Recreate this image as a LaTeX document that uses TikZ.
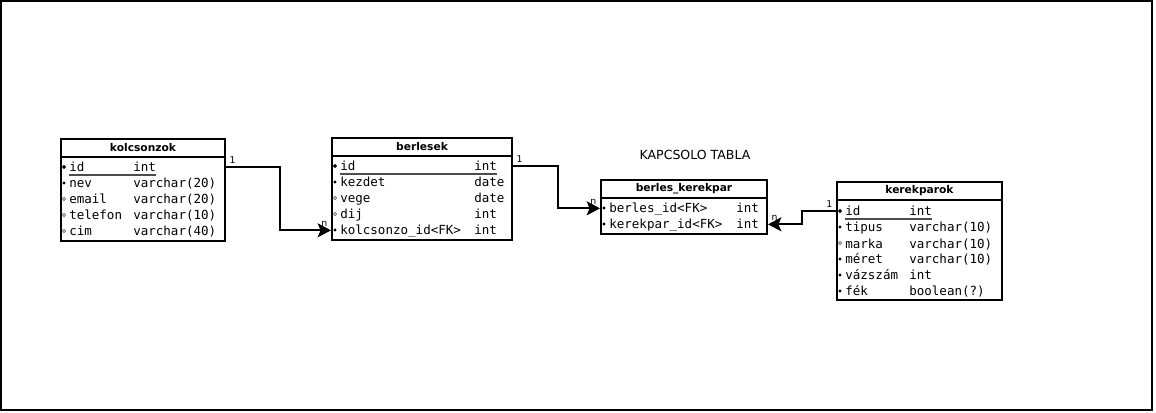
\documentclass[tikz,border=0pt]{standalone}
\usepackage{fontspec}
\setmainfont{DejaVu Sans}
\setsansfont{DejaVu Sans}
\setmonofont{DejaVu Sans Mono}
\usepackage{tikz}
\usetikzlibrary{arrows.meta}
\usetikzlibrary{calc}

\begin{document}
\begin{tikzpicture}[x=0.75pt,y=0.75pt,yscale=-1,xscale=1,
  tblhead/.style={draw, line width=1.5pt, inner sep=0pt, anchor=north west, minimum height=13.5pt, font=\sffamily\bfseries\fontsize{8}{9}\selectfont},
  tblbody/.style={draw, line width=1.5pt, inner sep=0pt, anchor=north west},
  fld/.style={anchor=base west, inner sep=0pt, text height=7pt, text depth=0pt, font=\ttfamily\fontsize{9.4}{10}\selectfont},
  pkmark/.style={fill=black},
  reqmark/.style={fill=black},
  optmark/.style={draw=black!60, fill=white, line width=0.5pt},
  uline/.style={draw=black!70, line width=0.8pt},
  rel/.style={draw, line width=1.5pt, -{Stealth[length=10pt,width=10.5pt,inset=2.2pt]}},
  card/.style={inner sep=2pt, font=\sffamily\fontsize{7}{7}\selectfont}]
\useasboundingbox (0,0) rectangle (1156,413);
%Frame
\draw[line width=1.5pt] (1,1) rectangle (1152,410);

%Table kolcsonzok
\node[tblhead, minimum width=123pt] (kolcsonzok-h) at (60,138) {kolcsonzok};
\node[tblbody, minimum width=123pt, minimum height=63pt] (kolcsonzok) at (60,156) {};
% Text Node
\node[fld] (k-id) at (69,172) {id};
\node[fld] (k-idt) at (133,172) {int};
\node[fld] (k-nev) at (69,188) {nev};
\node[fld] (k-nevt) at (133,188) {varchar(20)};
\node[fld] (k-email) at (69,204) {email};
\node[fld] (k-emailt) at (133,204) {varchar(20)};
\node[fld] (k-tel) at (69,220) {telefon};
\node[fld] (k-telt) at (133,220) {varchar(10)};
\node[fld] (k-cim) at (69,236) {cim};
\node[fld] (k-cimt) at (133,236) {varchar(40)};
\path[uline] ($(k-id.base west)+(0,3)$) -- ($(k-idt.base east)+(0,3)$);
\path[pkmark] ($(k-id.base west)+(-5,-5)$) +(-2.2,0) -- +(0,-2.2) -- +(2.2,0) -- +(0,2.2) -- cycle;
\path[reqmark] ($(k-nev.base west)+(-5,-5)$) circle (1.2pt);
\path[optmark] ($(k-email.base west)+(-5,-5)$) circle (1.2pt);
\path[optmark] ($(k-tel.base west)+(-5,-5)$) circle (1.2pt);
\path[optmark] ($(k-cim.base west)+(-5,-5)$) circle (1.2pt);

%Table berlesek
\node[tblhead, minimum width=135pt] (berlesek-h) at (331,137) {berlesek};
\node[tblbody, minimum width=135pt, minimum height=63pt] (berlesek) at (331,155) {};
% Text Node
\node[fld] (b-id) at (340,171) {id};
\node[fld] (b-idt) at (474,171) {int};
\node[fld] (b-kezdet) at (340,187) {kezdet};
\node[fld] (b-kezdett) at (474,187) {date};
\node[fld] (b-vege) at (340,203) {vege};
\node[fld] (b-veget) at (474,203) {date};
\node[fld] (b-dij) at (340,219) {dij};
\node[fld] (b-dijt) at (474,219) {int};
\node[fld] (b-kid) at (340,235) {kolcsonzo\_id<FK>};
\node[fld] (b-kidt) at (474,235) {int};
\path[uline] ($(b-id.base west)+(0,3)$) -- ($(b-idt.base east)+(0,3)$);
\path[pkmark] ($(b-id.base west)+(-5,-5)$) +(-2.2,0) -- +(0,-2.2) -- +(2.2,0) -- +(0,2.2) -- cycle;
\path[reqmark] ($(b-kezdet.base west)+(-5,-5)$) circle (1.2pt);
\path[optmark] ($(b-vege.base west)+(-5,-5)$) circle (1.2pt);
\path[optmark] ($(b-dij.base west)+(-5,-5)$) circle (1.2pt);
\path[reqmark] ($(b-kid.base west)+(-5,-5)$) circle (1.2pt);

% Text Node
\node[font=\sffamily\fontsize{9.4}{10}\selectfont, inner sep=0pt] (kapcsolo) at (695,155) {KAPCSOLO TABLA};

%Table berles_kerekpar
\node[tblhead, minimum width=124.5pt] (bk-h) at (600,179) {berles\_kerekpar};
\node[tblbody, minimum width=124.5pt, minimum height=27pt] (bk) at (600,197) {};
% Text Node
\node[fld] (bk-bid) at (609,213) {berles\_id<FK>};
\node[fld] (bk-bidt) at (736,213) {int};
\node[fld] (bk-kid) at (609,229) {kerekpar\_id<FK>};
\node[fld] (bk-kidt) at (736,229) {int};
\path[reqmark] ($(bk-bid.base west)+(-5,-5)$) circle (1.2pt);
\path[reqmark] ($(bk-kid.base west)+(-5,-5)$) circle (1.2pt);

%Table kerekparok
\node[tblhead, minimum width=123.75pt] (kerekparok-h) at (836,181) {kerekparok};
\node[tblbody, minimum width=123.75pt, minimum height=75pt] (kerekparok) at (836,199) {};
% Text Node
\node[fld] (kp-id) at (845,216) {id};
\node[fld] (kp-idt) at (909,216) {int};
\node[fld] (kp-tipus) at (845,232) {tipus};
\node[fld] (kp-tipust) at (909,232) {varchar(10)};
\node[fld] (kp-marka) at (845,248) {marka};
\node[fld] (kp-markat) at (909,248) {varchar(10)};
\node[fld] (kp-meret) at (845,264) {méret};
\node[fld] (kp-merett) at (909,264) {varchar(10)};
\node[fld] (kp-vaz) at (845,280) {vázszám};
\node[fld] (kp-vazt) at (909,280) {int};
\node[fld] (kp-fek) at (845,296) {fék};
\node[fld] (kp-fekt) at (909,296) {boolean(?)};
\path[uline] ($(kp-id.base west)+(0,3)$) -- ($(kp-idt.base east)+(0,3)$);
\path[pkmark] ($(kp-id.base west)+(-5,-5)$) +(-2.2,0) -- +(0,-2.2) -- +(2.2,0) -- +(0,2.2) -- cycle;
\path[reqmark] ($(kp-tipus.base west)+(-5,-5)$) circle (1.2pt);
\path[optmark] ($(kp-marka.base west)+(-5,-5)$) circle (1.2pt);
\path[reqmark] ($(kp-meret.base west)+(-5,-5)$) circle (1.2pt);
\path[reqmark] ($(kp-vaz.base west)+(-5,-5)$) circle (1.2pt);
\path[reqmark] ($(kp-fek.base west)+(-5,-5)$) circle (1.2pt);

%Relations
\draw[rel] (kolcsonzok.east |- k-id) node[card, anchor=south west] (r1-one) {1} -- ++(54,0) |- (berlesek.west |- b-kid) node[card, anchor=south east] (r1-n) {n};
\draw[rel] (berlesek.east |- b-id) node[card, anchor=south west] (r2-one) {1} -- ++(45,0) |- (bk.west |- bk-bid) node[card, anchor=south east] (r2-n) {n};
\draw[rel] (kerekparok.west |- kp-id) node[card, anchor=south east] (r3-one) {1} -- ++(-34,0) |- (bk.east |- bk-kid) node[card, anchor=south west] (r3-n) {n};

\end{tikzpicture}
\end{document}
